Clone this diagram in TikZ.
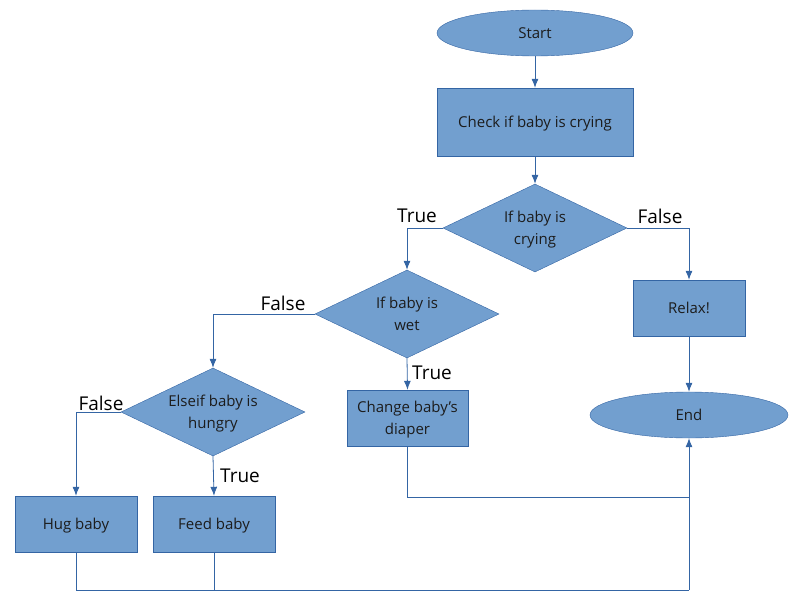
\documentclass[tikz,border=0pt]{standalone}
\usepackage{fontspec}
\setmainfont{Open Sans}
\usetikzlibrary{shapes.geometric,arrows.meta}
\definecolor{boxfill}{HTML}{729FCF}
\definecolor{boxline}{HTML}{3465A4}
\definecolor{boxtext}{HTML}{1C1C1C}
\begin{document}
\begin{tikzpicture}[x=1pt, y=-1pt, >={Latex[length=9pt,width=7pt]},
    every node/.style={font=\fontsize{15}{22}\selectfont, text=boxtext},
    box/.style={draw=boxline, fill=boxfill, rectangle, align=center, inner sep=0pt, text depth=0pt},
    oval/.style={draw=boxline, fill=boxfill, ellipse, inner sep=0pt, text depth=0pt},
    cond/.style={draw=boxline, fill=boxfill, diamond, aspect=2.09, align=center, inner sep=0pt,
        minimum width=184pt, minimum height=88pt, text depth=0pt},
    arr/.style={->, draw=boxline, line width=0.8pt},
    lnk/.style={draw=boxline, line width=0.8pt},
    lbl/.style={font=\fontsize{19}{22}\selectfont, text=black}]
\useasboundingbox (0,0) rectangle (800,602);
% blocks
\node[oval, minimum width=196pt, minimum height=46pt] (start) at (535,33) {Start};
\node[box, minimum width=196pt, minimum height=68pt] (check) at (535,122) {Check if baby is crying};
\node[cond] (crying) at (535,228) {If baby is\\crying};
\node[cond] (wet) at (407,314) {If baby is\\wet};
\node[cond] (hungry) at (213,412) {Elseif baby is\\hungry};
\node[box, minimum width=122pt, minimum height=56pt] (hug) at (76,524) {Hug baby};
\node[box, minimum width=122pt, minimum height=56pt] (feed) at (214,524) {Feed baby};
\node[box, minimum width=121pt, minimum height=56pt] (diaper) at (407.5,418) {Change baby’s\\diaper};
\node[box, minimum width=112pt, minimum height=56pt] (relax) at (689,308) {Relax!};
\node[oval, minimum width=198pt, minimum height=46pt] (stop) at (689,415) {End};
\coordinate (join1) at (689,497);
\coordinate (join2) at (689,590);
% arrows
\draw[arr] (start) -- (check);
\draw[arr] (check) -- (crying);
\draw[arr] (crying.west) -| (wet.north);
\draw[arr] (crying.east) -| (relax.north);
\draw[arr] (wet.west) -| (hungry.north);
\draw[arr] (wet.south) -- (diaper.north);
\draw[arr] (hungry.west) -| (hug.north);
\draw[arr] (hungry.south) -- (feed.north);
\draw[arr] (relax.south) -- (stop.north);
\draw[lnk] (diaper.south) |- (join1);
\draw[lnk] (hug.south) |- (join2);
\draw[lnk] (feed.south) -- (feed.south |- join2);
\draw[arr] (join2) -- (stop.south);
% labels
\node[lbl] (t1) at (417,216) {True};
\node[lbl] (f1) at (660,216) {False};
\node[lbl] (f2) at (283,303) {False};
\node[lbl] (t2) at (432,373) {True};
\node[lbl] (f3) at (101,403) {False};
\node[lbl] (t3) at (240,476) {True};
\end{tikzpicture}
\end{document}
